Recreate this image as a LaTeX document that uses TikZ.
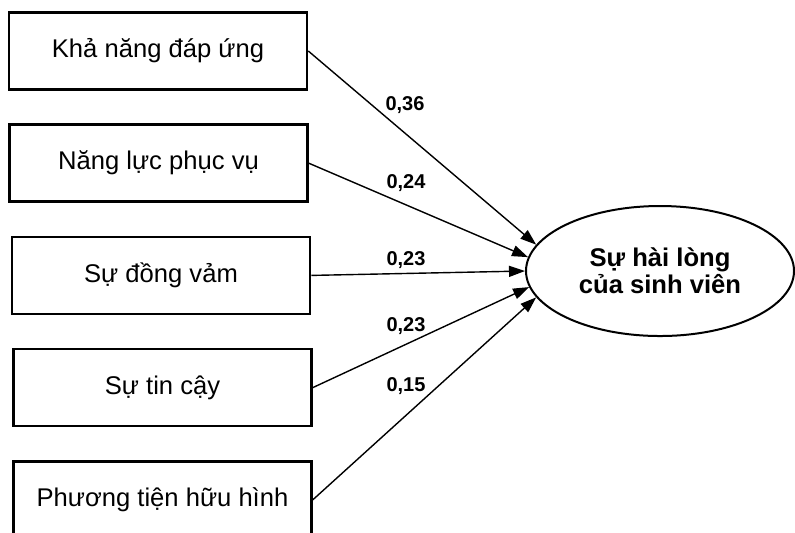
\documentclass[tikz,border=0pt]{standalone}
\usepackage{fontspec}
\setmainfont{Liberation Sans}
\usetikzlibrary{arrows.meta, positioning, shapes.geometric}
\tikzset{
  factorNode/.style={
    draw=black,
    line width=1.3pt,
    align=center,
    minimum width=149pt,
    minimum height=38.5pt,
    inner sep=0pt,
    font=\fontsize{12.8}{15}\selectfont,
    fill=white
  },
  outcomeNode/.style={
    ellipse,
    draw=black,
    line width=1pt,
    align=center,
    minimum width=134pt,
    minimum height=65pt,
    inner sep=0pt,
    font=\fontsize{12.8}{13.5}\selectfont\bfseries
  },
  weightLabel/.style={font=\fontsize{10}{12}\selectfont\bfseries, inner sep=0pt},
  pathFlow/.style={-{Triangle[length=8pt,width=5.5pt]}, line width=0.7pt, draw=black}
}
\begin{document}
\begin{tikzpicture}[x=0.5pt, y=-0.5pt, node distance=16.3pt]
  \useasboundingbox (0,0) rectangle (795,532);

  \node[factorNode] (resp) at (158,51) {Khả năng đáp ứng};
  \node[factorNode, below=of resp, xshift=0.25pt] (assur) {Năng lực phục vụ};
  \node[factorNode, below=of assur, xshift=1.25pt] (empat) {Sự đồng vảm};
  \node[factorNode, below=of empat, xshift=0.75pt] (relia) {Sự tin cậy};
  \node[factorNode, below=of relia] (tangi) {Phương tiện hữu hình};

  \node[outcomeNode] (satis) at (660,271) {Sự hài lòng\\của sinh viên};

  \draw[pathFlow] (resp.east) -- (satis.168);
  \draw[pathFlow] (assur.east) -- (satis.174);
  \draw[pathFlow] (empat.east) -- (satis.west);
  \draw[pathFlow] (relia.east) -- (satis.187);
  \draw[pathFlow] (tangi.east) -- (satis.192);

  \node[weightLabel] (w1) at (405,105) {0,36};
  \node[weightLabel] (w2) at (406,183) {0,24};
  \node[weightLabel] (w3) at (406,260) {0,23};
  \node[weightLabel] (w4) at (406,326) {0,23};
  \node[weightLabel] (w5) at (406,386) {0,15};
\end{tikzpicture}
\end{document}
